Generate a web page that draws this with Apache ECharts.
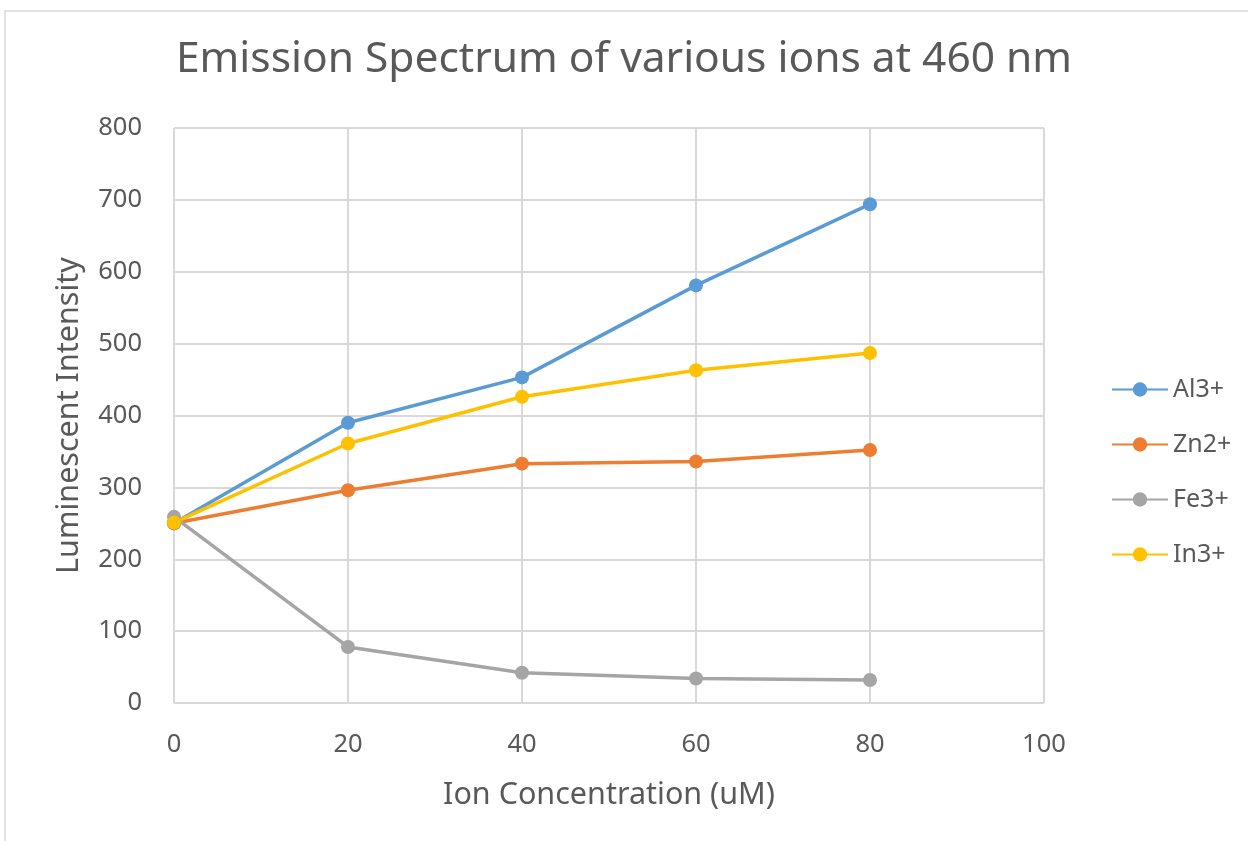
<!DOCTYPE html>
<html><head><meta charset="utf-8">
<script src="https://cdn.jsdelivr.net/npm/echarts@6/dist/echarts.min.js"></script>
<style>html,body{margin:0;padding:0;background:#fff}#c{width:1248px;height:841px}</style>
</head><body><div id="c"></div>
<script>
const concentrations = [0, 20, 40, 60, 80];
const seriesNames = ['Al3+', 'Zn2+', 'Fe3+', 'In3+'];
const al3 = [250, 390, 453, 581, 694];
const zn2 = [250, 296, 333, 336, 352];
const fe3 = [259, 78, 42, 34, 32];
const in3 = [251, 361, 426, 463, 487];
const colors = ['#5B9BD5', '#ED7D31', '#A5A5A5', '#FFC000'];
const allValues = [al3, zn2, fe3, in3];

const chart = echarts.init(document.getElementById('c'));
const font = '"Noto Sans", sans-serif';
chart.setOption({
  animation: false,
  graphic: [{type:'rect', shape:{x:5, y:11, width:1300, height:900}, style:{fill:'none', stroke:'#d9d9d9', lineWidth:1.5}, z:-1}],
  title: {text: 'Emission Spectrum of various ions at 460 nm', left: 'center', top: 33,
    textStyle: {fontFamily: font, fontSize: 42.5, fontWeight: 'normal', color: '#595959'}},
  legend: {orient: 'vertical', left: 1106, top: 372, itemGap: 30, itemWidth: 56, itemHeight: 18,
    textStyle: {fontFamily: font, fontSize: 25, color: '#595959'}, data: seriesNames},
  grid: {left: 174, right: 204, top: 128, bottom: 138},
  xAxis: {type: 'value', min: 0, max: 100, interval: 20,
    name: 'Ion Concentration (uM)', nameLocation: 'middle', nameGap: 77,
    nameTextStyle: {fontFamily: font, fontSize: 30.5, color: '#595959'},
    axisLine: {show: false}, axisTick: {show: false},
    axisLabel: {fontFamily: font, fontSize: 25.5, color: '#595959', margin: 29},
    splitLine: {show: true, lineStyle: {color: '#d9d9d9', width: 2}}},
  yAxis: {type: 'value', min: 0, max: 800, interval: 100,
    name: 'Luminescent Intensity', nameLocation: 'middle', nameGap: 89,
    nameTextStyle: {fontFamily: font, fontSize: 30.5, color: '#595959'},
    axisLine: {show: false}, axisTick: {show: false},
    axisLabel: {fontFamily: font, fontSize: 25.5, color: '#595959', margin: 32},
    splitLine: {show: true, lineStyle: {color: '#d9d9d9', width: 2}}},
  series: seriesNames.map((n, i) => ({
    name: n, type: 'line', symbol: 'circle', symbolSize: 14,
    data: concentrations.map((x, j) => [x, allValues[i][j]]),
    itemStyle: {color: colors[i]}, lineStyle: {color: colors[i], width: 3.5}
  }))
});
</script></body></html>
